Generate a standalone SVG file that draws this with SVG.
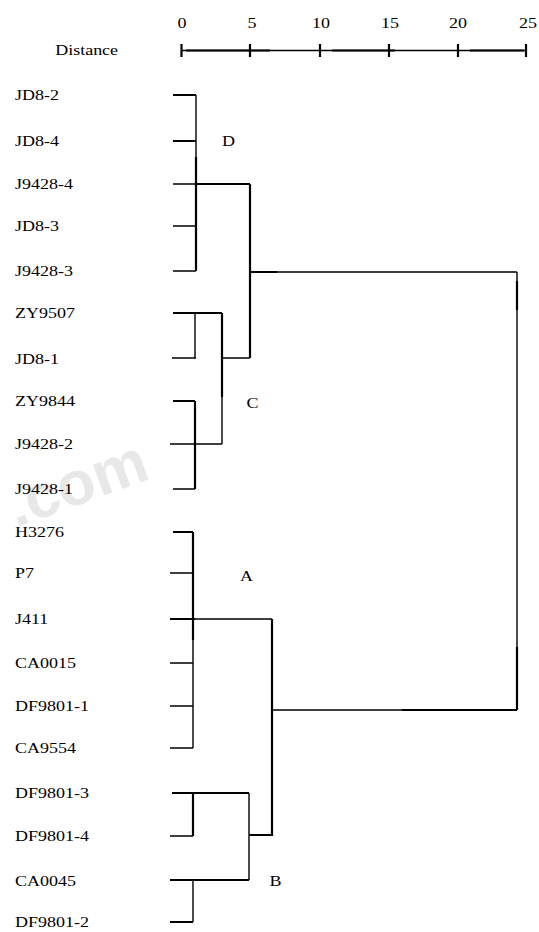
<svg xmlns="http://www.w3.org/2000/svg" width="539" height="932" viewBox="0 0 539 932">
<style>
  .lbl { font-family: "Liberation Serif", "Times New Roman", serif; font-size: 15px; fill: #000; }
  .wm { font-family: "Liberation Sans", Arial, sans-serif; font-size: 62px; font-weight: bold; fill: #e8e8e8; }
  .thin { stroke: #000; stroke-width: 1.4; fill: none; }
  .thick { stroke: #000; stroke-width: 2.2; fill: none; }
</style>
<rect width="539" height="932" fill="#fff"/>
<text class="wm" transform="translate(84,503) rotate(-20)" text-anchor="middle">.com</text>

<g id="axis">
  <text class="lbl" x="46" y="55" transform="scale(1.2 1)">Distance</text>
  <text class="lbl" x="151.7" y="28.5" text-anchor="middle" transform="scale(1.2 1)">0</text>
  <text class="lbl" x="210" y="28.5" text-anchor="middle" transform="scale(1.2 1)">5</text>
  <text class="lbl" x="267.5" y="28.5" text-anchor="middle" transform="scale(1.2 1)">10</text>
  <text class="lbl" x="325" y="28.5" text-anchor="middle" transform="scale(1.2 1)">15</text>
  <text class="lbl" x="381.7" y="28.5" text-anchor="middle" transform="scale(1.2 1)">20</text>
  <text class="lbl" x="440" y="28.5" text-anchor="middle" transform="scale(1.2 1)">25</text>
  <path class="thin" d="M181 50.5H526"/>
  <path class="thick" d="M186 50.5H270M332 50.5H395M470 50.5H524"/>
  <path class="thick" d="M181.5 44V57M250 44V57M320 44V57M389 44V57M458 44V57M526 44V57"/>
</g>

<g id="leaves">
  <g id="n-JD8-2"><text class="lbl" x="12.5" y="100.5" transform="scale(1.2 1)">JD8-2</text></g>
  <g id="n-JD8-4"><text class="lbl" x="12.5" y="146.5" transform="scale(1.2 1)">JD8-4</text></g>
  <g id="n-J9428-4"><text class="lbl" x="12.5" y="189.5" transform="scale(1.2 1)">J9428-4</text></g>
  <g id="n-JD8-3"><text class="lbl" x="12.5" y="231.5" transform="scale(1.2 1)">JD8-3</text></g>
  <g id="n-J9428-3"><text class="lbl" x="12.5" y="276.5" transform="scale(1.2 1)">J9428-3</text></g>
  <g id="n-ZY9507"><text class="lbl" x="12.5" y="318.5" transform="scale(1.2 1)">ZY9507</text></g>
  <g id="n-JD8-1"><text class="lbl" x="12.5" y="364" transform="scale(1.2 1)">JD8-1</text></g>
  <g id="n-ZY9844"><text class="lbl" x="12.5" y="406.5" transform="scale(1.2 1)">ZY9844</text></g>
  <g id="n-J9428-2"><text class="lbl" x="12.5" y="449.5" transform="scale(1.2 1)">J9428-2</text></g>
  <g id="n-J9428-1"><text class="lbl" x="12.5" y="494.5" transform="scale(1.2 1)">J9428-1</text></g>
  <g id="n-H3276"><text class="lbl" x="12.5" y="537.5" transform="scale(1.2 1)">H3276</text></g>
  <g id="n-P7"><text class="lbl" x="12.5" y="578.5" transform="scale(1.2 1)">P7</text></g>
  <g id="n-J411"><text class="lbl" x="12.5" y="624.5" transform="scale(1.2 1)">J411</text></g>
  <g id="n-CA0015"><text class="lbl" x="12.5" y="668.5" transform="scale(1.2 1)">CA0015</text></g>
  <g id="n-DF9801-1"><text class="lbl" x="12.5" y="711.5" transform="scale(1.2 1)">DF9801-1</text></g>
  <g id="n-CA9554"><text class="lbl" x="12.5" y="753.5" transform="scale(1.2 1)">CA9554</text></g>
  <g id="n-DF9801-3"><text class="lbl" x="12.5" y="798.5" transform="scale(1.2 1)">DF9801-3</text></g>
  <g id="n-DF9801-4"><text class="lbl" x="12.5" y="841.5" transform="scale(1.2 1)">DF9801-4</text></g>
  <g id="n-CA0045"><text class="lbl" x="12.5" y="886" transform="scale(1.2 1)">CA0045</text></g>
  <g id="n-DF9801-2"><text class="lbl" x="12.5" y="927.5" transform="scale(1.2 1)">DF9801-2</text></g>
</g>

<g id="clusters">
  <g id="c-D"><text class="lbl" x="185" y="146.5" transform="scale(1.2 1)">D</text></g>
  <g id="c-C"><text class="lbl" x="205.5" y="408" transform="scale(1.2 1)">C</text></g>
  <g id="c-A"><text class="lbl" x="200" y="581" transform="scale(1.2 1)">A</text></g>
  <g id="c-B"><text class="lbl" x="224.5" y="886.5" transform="scale(1.2 1)">B</text></g>
</g>

<g id="connectors">
  <!-- cluster D -->
  <path class="thick" d="M173 95H196M173 141H196M196 184H250M196 157V271M250 184V358M250 272H277"/>
  <path class="thin" d="M173 184H196M173 226H196M173 271H196M196 95V157"/>
  <!-- top-level join -->
  <path class="thin" d="M277 272H517M517 272V710M272 710H402"/>
  <path class="thick" d="M517 281V310M517 647V710M402 710H517"/>
  <!-- cluster C -->
  <path class="thick" d="M173 313H222M222 313V397M173 401H195M195 401V489"/>
  <path class="thin" d="M172 358H196M195 313V358M222 397V444M222 358H250M170 444H222M173 489H195"/>
  <!-- cluster A -->
  <path class="thick" d="M173 532H193M170 619H195M193 532V640M272 619V836"/>
  <path class="thin" d="M170 573H193M195 619H272M170 663H193M170 706H193M170 748H193M193 640V748"/>
  <!-- cluster B -->
  <path class="thick" d="M172 793H249M193 793V836M249 835H272M170 880H249M170 922H193"/>
  <path class="thin" d="M170 836H193M249 793V880M193 880V922"/>
</g>
</svg>
